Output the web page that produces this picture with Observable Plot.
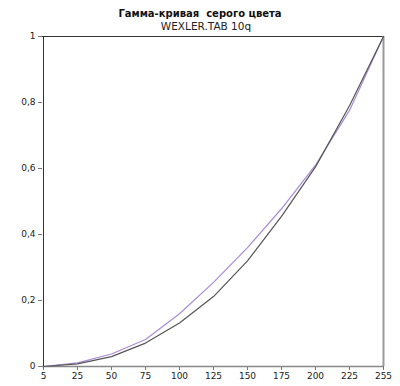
<!DOCTYPE html>
<html><head><meta charset="utf-8">
<script src="https://cdn.jsdelivr.net/npm/d3@7"></script>
<script src="https://cdn.jsdelivr.net/npm/@observablehq/plot@0.6"></script>
<style>
body{margin:0;background:#fff;font-family:"DejaVu Sans",Verdana,sans-serif;}
#hdr{width:400px;height:32px;text-align:center;color:#111;}
#t{font-weight:bold;font-size:10px;line-height:12px;padding-top:8px;}
#s{font-size:10.5px;line-height:12px;padding-left:12px;color:#222;}
</style></head>
<body>
<div id="hdr"><div id="t">Гамма-кривая&nbsp; серого цвета</div><div id="s">WEXLER.TAB 10q</div></div>
<div id="chart"></div>
<script>
const categories = ["5","25","50","75","100","125","150","175","200","225","255"];
const seriesDark = [0, 0.008, 0.030, 0.071, 0.132, 0.212, 0.320, 0.455, 0.605, 0.790, 1];
const seriesPurple = [0, 0.011, 0.038, 0.082, 0.160, 0.255, 0.360, 0.478, 0.610, 0.776, 1];
const yTicks = [0, 0.2, 0.4, 0.6, 0.8, 1];

const dark = categories.map((c,i)=>({x:c,y:seriesDark[i]}));
const purple = categories.map((c,i)=>({x:c,y:seriesPurple[i]}));

const plot = Plot.plot({
  width: 400, height: 354,
  marginTop: 4, marginBottom: 20, marginLeft: 42, marginRight: 17,
  style: {fontFamily: '"DejaVu Sans", Verdana, sans-serif', fontSize: "9px", color: "#222", background: "#fff"},
  x: {type: "point", domain: categories, padding: 0, label: null, tickSize: 4},
  y: {domain: [0,1], ticks: yTicks, tickFormat: d => String(d).replace(".", ","), label: null, tickSize: 4},
  marks: [
    Plot.axisX({tickSize: 4, tickPadding: 2, stroke: "#777"}),
    Plot.axisY({ticks: yTicks, tickSize: 4, tickPadding: 3, tickFormat: d => String(d).replace(".", ","), stroke: "#777"}),
    Plot.ruleY([1], {stroke: "#333", strokeWidth: 1}),
    Plot.ruleX([categories[categories.length-1]], {stroke: "#999", strokeWidth: 2}),
    Plot.ruleY([0], {stroke: "#888", strokeWidth: 1.5}),
    Plot.ruleX([categories[0]], {stroke: "#333", strokeWidth: 1}),
    Plot.line(purple, {x: "x", y: "y", stroke: "#a98bd8", strokeWidth: 1.2}),
    Plot.line(dark, {x: "x", y: "y", stroke: "#555", strokeWidth: 1.2})
  ]
});
document.getElementById("chart").appendChild(plot);
</script>
</body></html>
